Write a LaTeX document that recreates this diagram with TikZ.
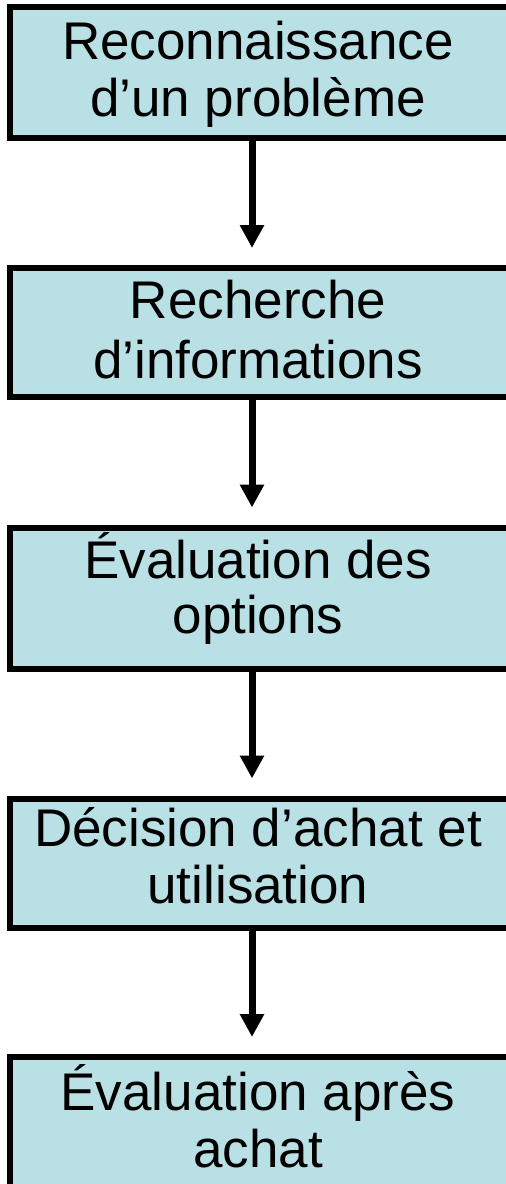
\documentclass[tikz,border=0pt]{standalone}
\usepackage{fontspec}
\setmainfont{Liberation Sans}
\usetikzlibrary{arrows.meta}
\definecolor{boxfill}{RGB}{185,224,228}
\begin{document}
\begin{tikzpicture}[x=1pt,y=-1pt,
  stagebox/.style={draw=black, fill=boxfill, line width=6pt, rectangle, minimum width=600pt, inner sep=0pt},
  txt/.style={font=\fontsize{53}{57}\selectfont, anchor=base, inner sep=0pt},
  arr/.style={line width=7pt, -{Triangle[width=23pt,length=23pt]}, shorten >=17pt}]
\useasboundingbox (0,0) rectangle (506,1184);
\clip (0,0) rectangle (506,1184);
\coordinate (ax) at (252,0);
\node[stagebox, minimum height=131pt] (b1) at (310,72.5) {};
\node[stagebox, minimum height=129pt] (b2) at (310,332.5) {};
\node[stagebox, minimum height=141.5pt] (b3) at (310,598.25) {};
\node[stagebox, minimum height=129.5pt] (b4) at (310,863.25) {};
\node[stagebox, minimum height=131pt] (b5) at (310,1122.5) {};
\node[txt] (t1a) at (258,59.3) {Reconnaissance};
\node[txt] (t1b) at (258,116) {d’un problème};
\node[txt] (t2a) at (258,318.7) {Recherche};
\node[txt] (t2b) at (258,378) {d’informations};
\node[txt] (t3a) at (258,578) {Évaluation des};
\node[txt] (t3b) at (258,633) {options};
\node[txt] (t4a) at (258,846) {Décision d’achat et};
\node[txt] (t4b) at (258,903) {utilisation};
\node[txt] (t5a) at (258,1110) {Évaluation après};
\node[txt] (t5b) at (258,1167) {achat};
\draw[arr] (b1.south -| ax) -- (b2.north -| ax);
\draw[arr] (b2.south -| ax) -- (b3.north -| ax);
\draw[arr] (b3.south -| ax) -- (b4.north -| ax);
\draw[arr] (b4.south -| ax) -- (b5.north -| ax);
\end{tikzpicture}
\end{document}
